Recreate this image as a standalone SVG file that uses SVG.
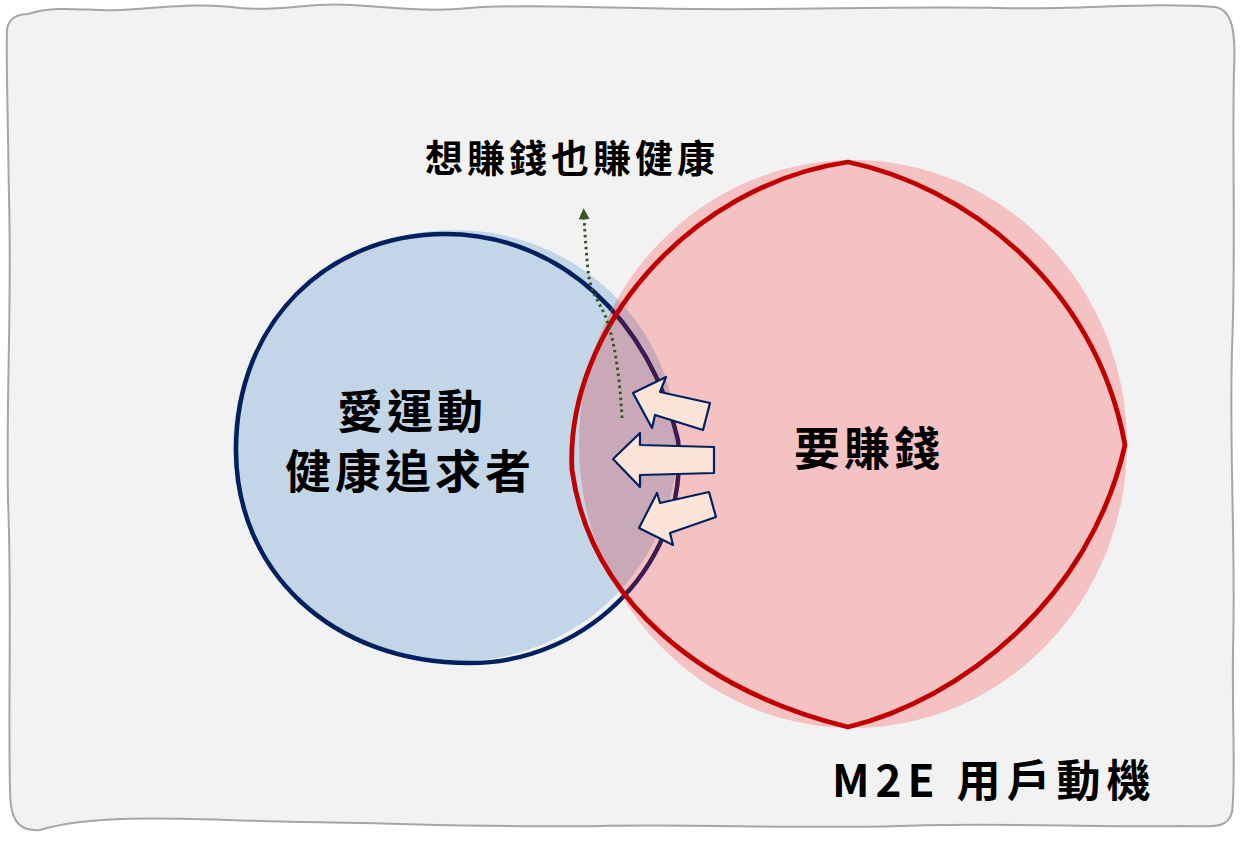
<svg xmlns="http://www.w3.org/2000/svg" width="1241" height="845" viewBox="0 0 1241 845">
<defs>
<style>
.t{font-family:"Noto Sans CJK TC","Noto Sans CJK SC",sans-serif;fill:#000;font-weight:700;}
.arrow{fill:#fce4d6;stroke:#002060;stroke-width:2.2;stroke-linejoin:round;}
</style>
<clipPath id="redclip"><ellipse cx="853" cy="444" rx="274" ry="284"/></clipPath>
<marker id="ga" viewBox="0 0 10 10" refX="3" refY="5" markerWidth="12" markerHeight="11" orient="auto" markerUnits="userSpaceOnUse">
<path d="M0,0 L10,5 L0,10 Z" fill="#375623"/>
</marker>
</defs>
<rect width="1241" height="845" fill="#ffffff"/>
<g id="frame">
<path d="M28,14 C60,4 90,12 120,10 C160,8 200,2 240,8 C280,12 310,2 350,5 C400,8 430,12 470,8 C520,4 600,8 700,9 C800,10 900,6 1000,8 C1080,10 1150,2 1215,7 C1232,10 1236,30 1234,70 C1232,150 1236,250 1232,350 C1229,450 1236,550 1233,650 C1232,720 1236,780 1232,812 C1228,830 1210,826 1180,826 C1100,828 1000,822 900,826 C800,829 700,824 600,826 C500,828 400,823 300,822 C200,820 100,812 40,830 C15,832 10,815 10,790 C8,700 12,600 8,500 C6,400 12,300 9,200 C8,120 6,60 7,30 C8,18 18,14 28,14 Z" fill="#f2f2f2" stroke="#a6a6a6" stroke-width="2"/>
</g>
<g id="node-health">
<ellipse cx="455" cy="446" rx="222" ry="216" fill="#c2d6e8"/>
<path d="M236,450 C236,320 330,234 445,234 C560,234 650,320 678,440 C690,560 590,663 470,663 C330,663 236,570 236,450 Z" fill="none" stroke="#002060" stroke-width="4.5"/>
</g>
<g id="node-money">
<ellipse cx="853" cy="444" rx="274" ry="284" fill="#f4c2c2"/>
<g clip-path="url(#redclip)">
<ellipse cx="455" cy="446" rx="222" ry="216" fill="#c9a9b7"/>
<path d="M236,450 C236,320 330,234 445,234 C560,234 650,320 678,440 C690,560 590,663 470,663 C330,663 236,570 236,450 Z" fill="none" stroke="#3b1c50" stroke-width="4.5"/>
</g>
<path d="M848,162 C960,185 1095,280 1125,445 C1090,600 960,700 848,727 C700,690 590,600 572,470 C565,330 690,185 848,162 Z" fill="none" stroke="#c00000" stroke-width="4.8" stroke-linejoin="miter"/>
</g>
<g id="connectors">
<path d="M622,418 C620,380 615,340 605,315 C595,295 590,290 588,270 C586,250 585,235 584,216" fill="none" stroke="#375623" stroke-width="3" stroke-dasharray="2.5 3.5" marker-end="url(#ga)"/>
<path class="arrow" d="M633,393 L666,377 L660,392 L710,403 L703,430 L655,415 L652,428 Z"/>
<path class="arrow" d="M613,459 L640,433 L640,445 L714,447 L714,473 L640,475 L640,487 Z"/>
<path class="arrow" d="M639,528 L657,493 L660,503 L709,492 L716,517 L670,533 L673,545 Z"/>
</g>
<g id="label-both">
<text class="t" x="425" y="172" font-size="38" letter-spacing="4">想賺錢也賺健康</text>
</g>
<g id="label-health">
<text class="t" x="412" y="428" font-size="46" letter-spacing="4" text-anchor="middle">愛運動</text>
<text class="t" x="410" y="488" font-size="46" letter-spacing="4" text-anchor="middle">健康追求者</text>
</g>
<g id="label-money">
<text class="t" x="869" y="465" font-size="46" letter-spacing="4" text-anchor="middle">要賺錢</text>
</g>
<g id="label-title">
<text class="t" x="832" y="797" font-size="44" letter-spacing="6">M2E 用戶動機</text>
</g>
</svg>
